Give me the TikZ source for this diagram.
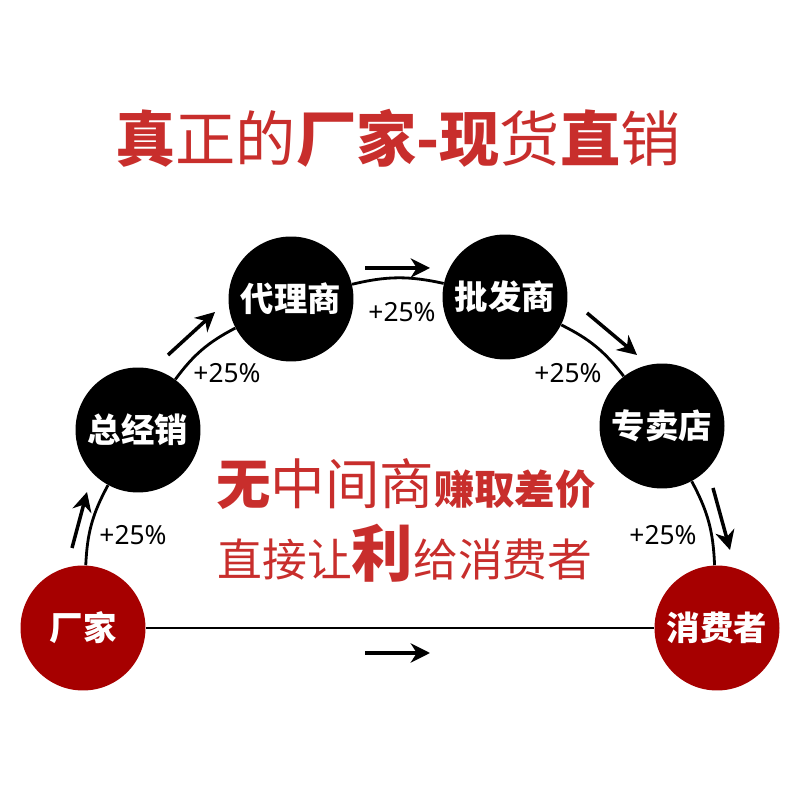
\documentclass[tikz,border=0pt]{standalone}
\usepackage{fontspec}
\setmainfont{Noto Sans}
\newfontfamily\cjk{Noto Sans CJK SC}
\usetikzlibrary{arrows.meta,positioning}
\definecolor{titlered}{RGB}{200,46,44}
\definecolor{darkred}{RGB}{166,0,0}

\begin{document}
\begin{tikzpicture}[x=0.02cm, y=0.02cm, >={Stealth[length=11pt,width=11pt,inset=3.5pt]},
    stage/.style={circle, fill=black, text=white, minimum size=2.5cm, inner sep=0pt,
        font=\cjk\bfseries\fontsize{19}{19}\selectfont},
    endpt/.style={stage, fill=darkred},
    link/.style={line width=1.6pt, bend left=13},
    flow/.style={->, line width=2pt},
    gain/.style={font=\fontsize{15}{15}\selectfont}]
    \useasboundingbox[fill=white] (0,0) rectangle (800,800);
    % title
    \node[text=titlered, font=\cjk\fontsize{34.3}{34.3}\selectfont] (title) at (398,662)
        {{\bfseries 真}正的{\bfseries 厂家-现}货{\bfseries 直}销};
    % chain of dealers
    \node[endpt] (cj) at (83,172) {厂家};
    \node[stage] (zjx) at (138,370) {总经销};
    \node[stage] (dls) at (291,501) {代理商};
    \node[stage] (pfs) at (505,503) {批发商};
    \node[stage] (zmd) at (662,374) {专卖店};
    \node[endpt] (xfz) at (717,172) {消费者};
    \draw[link] (cj) to (zjx);
    \draw[link] (zjx) to (dls);
    \draw[link] (dls) to (pfs);
    \draw[link] (pfs) to (zmd);
    \draw[link] (zmd) to (xfz);
    \draw[line width=1.6pt] (cj) -- (xfz);
    % markups
    \node[gain] (g1) at (133,265) {+25\%};
    \node[gain] (g2) at (227,427) {+25\%};
    \node[gain] (g3) at (402,488) {+25\%};
    \node[gain] (g4) at (568,427) {+25\%};
    \node[gain] (g5) at (663,265) {+25\%};
    % direction arrows
    \coordinate (a1s) at (72,252);  \coordinate (a1e) at (87,308);
    \coordinate (a2s) at (168,445); \coordinate (a2e) at (215,488);
    \coordinate (a3s) at (365,532); \coordinate (a3e) at (430,532);
    \coordinate (a4s) at (587,487); \coordinate (a4e) at (637,445);
    \coordinate (a5s) at (713,312); \coordinate (a5e) at (730,250);
    \coordinate (a6s) at (365,147); \coordinate (a6e) at (430,147);
    \draw[flow] (a1s) -- (a1e);
    \draw[flow] (a2s) -- (a2e);
    \draw[flow] (a3s) -- (a3e);
    \draw[flow] (a4s) -- (a4e);
    \draw[flow] (a5s) -- (a5e);
    \draw[flow] (a6s) -- (a6e);
    % slogan
    \node[text=titlered, font=\cjk] (slogan1) at (406,316)
        {{\bfseries\fontsize{31}{31}\selectfont 无}{\fontsize{31}{31}\selectfont 中间商}{\bfseries\fontsize{23}{23}\selectfont 赚取差价}};
    \node[text=titlered, font=\cjk] (slogan2) at (405,247)
        {{\fontsize{25.5}{25.5}\selectfont 直接让}{\bfseries\fontsize{35}{35}\selectfont 利}{\fontsize{25.5}{25.5}\selectfont 给消费者}};
\end{tikzpicture}
\end{document}
